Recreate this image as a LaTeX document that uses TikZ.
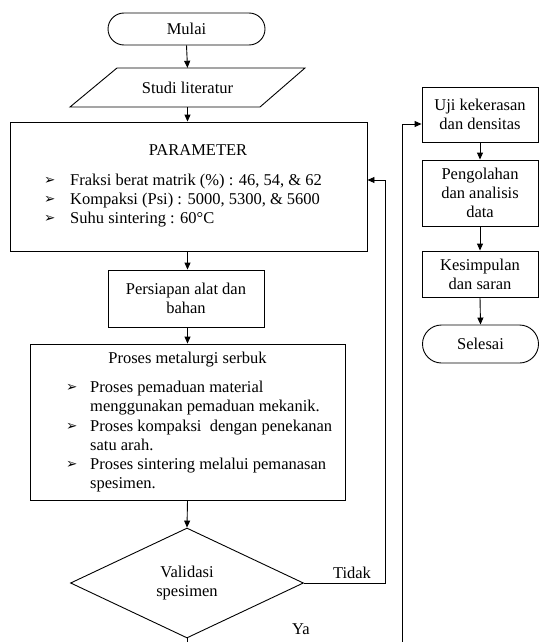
\documentclass[tikz,border=0pt]{standalone}
\usepackage{fontspec}
\setmainfont{Liberation Serif}
\newfontfamily\dejavu{DejaVu Sans}
\usetikzlibrary{arrows.meta,shapes.misc,shapes.geometric}
\newcommand{\bul}{{\dejavu\fontsize{13.5}{15}\selectfont ➢}}
\begin{document}
\begin{tikzpicture}[x=1pt,y=-1pt,
  every node/.style={font=\fontsize{16.5}{19}\selectfont, inner sep=0pt},
  ln/.style={line width=0.9pt},
  arr/.style={ln,-{Triangle[length=7pt,width=6pt]}},
  boxx/.style={draw,ln,rectangle,align=center},
  term/.style={draw,ln,rounded rectangle,align=center},
  txt/.style={anchor=base west},
]
\useasboundingbox (0,0) rectangle (540,642);
\clip (0,0) rectangle (540,642);

% left column
\node[term,minimum width=157pt,minimum height=32pt] (mulai) at (186.5,29) {Mulai};
\node[minimum width=188pt,minimum height=39pt] (lit) at (187.5,87.5) {Studi literatur};
\draw[ln] (117,68) -- (305,68) -- (260,107) -- (70,107) -- cycle;

\node[boxx,minimum width=357pt,minimum height=129pt] (param) at (188.5,186.5) {};
\node[anchor=base] (ptitle) at (198,155) {PARAMETER};
\node[txt] (pb1) at (44,184) {\bul};
\node[txt] (pb2) at (44,203) {\bul};
\node[txt] (pb3) at (44,222) {\bul};
\node[txt] (pt1) at (70,185) {Fraksi berat matrik (\%) : 46, 54, \& 62};
\node[txt] (pt2) at (70,204) {Kompaksi (Psi) : 5000, 5300, \& 5600};
\node[txt] (pt3) at (70,223) {Suhu sintering : 60°C};

\node[boxx,minimum width=156pt,minimum height=57pt] (prep) at (186,298.5) {Persiapan alat dan\\bahan};

\node[boxx,minimum width=315pt,minimum height=156pt] (proses) at (187.5,422) {};
\node[anchor=base] (prtitle) at (187.5,363) {Proses metalurgi serbuk};
\node[txt] (qb1) at (66,391) {\bul};
\node[txt] (qb2) at (66,430) {\bul};
\node[txt] (qb3) at (66,468) {\bul};
\node[txt] (q1) at (90,392) {Proses pemaduan material};
\node[txt] (q2) at (90,411) {menggunakan pemaduan mekanik.};
\node[txt] (q3) at (90,431) {Proses kompaksi\ \ dengan penekanan};
\node[txt] (q4) at (90,450) {satu arah.};
\node[txt] (q5) at (90,469) {Proses sintering melalui pemanasan};
\node[txt] (q6) at (90,488) {spesimen.};

\node[draw,ln,diamond,minimum width=233pt,minimum height=110pt,align=center] (dia) at (187,583) {Validasi\\spesimen};

% right column
\node[boxx,minimum width=116pt,minimum height=55pt] (uji) at (480,114.5) {Uji kekerasan\\dan densitas};
\node[boxx,minimum width=116pt,minimum height=66pt] (peng) at (480,193) {Pengolahan\\dan analisis\\data};
\node[boxx,minimum width=116pt,minimum height=46pt] (kes) at (480,274) {Kesimpulan\\dan saran};
\node[term,minimum width=116pt,minimum height=38pt] (sel) at (480.5,344) {Selesai};

% connectors
\draw[arr] (mulai.south) -- (lit.north);
\draw[arr] (lit.south) -- (lit.south |- param.north);
\draw[arr] (lit.south |- param.south) -- (lit.south |- prep.north);
\draw[arr] (lit.south |- prep.south) -- (lit.south |- proses.north);
\draw[arr] (lit.south |- proses.south) -- (dia.north);
\draw[arr] (uji.south) -- (peng.north);
\draw[arr] (peng.south) -- (kes.north);
\draw[arr] (kes.south) -- (sel.north);

\coordinate (fb) at (385,180);
\draw[arr] (dia.east) -| (fb) -- (fb -| param.east);
\node (tidak) at (352,573) {Tidak};

\coordinate (yb) at (402,124);
\draw[arr] (dia.south) -- ++(0,40) -| (yb) -- (yb -| uji.west);
\node (ya) at (301,629) {Ya};
\end{tikzpicture}
\end{document}
